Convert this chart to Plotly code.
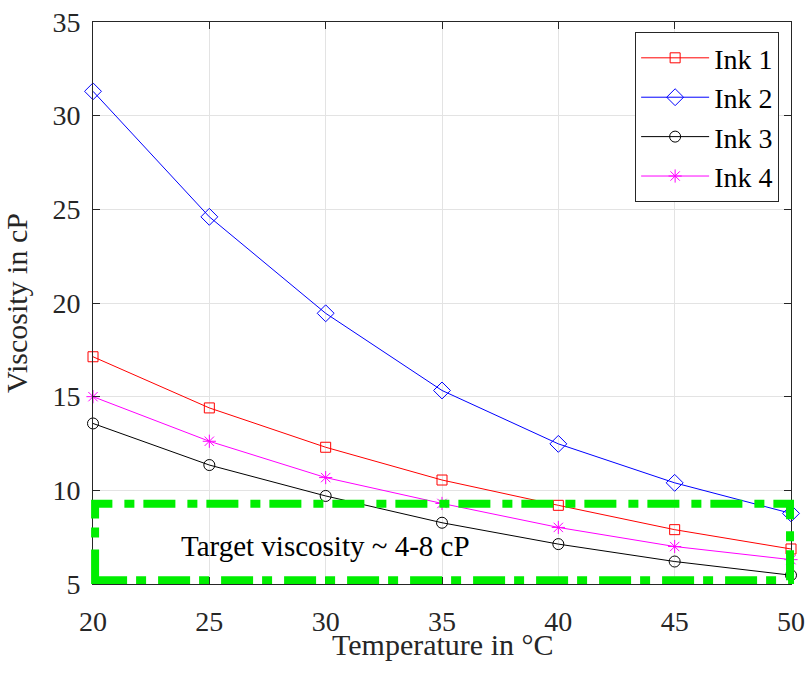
import plotly.graph_objects as go

temperature = [20, 25, 30, 35, 40, 45, 50]
ink1 = [17.13, 14.4, 12.3, 10.55, 9.2, 7.9, 6.87]
ink2 = [31.3, 24.6, 19.45, 15.33, 12.48, 10.4, 8.77]
ink3 = [13.57, 11.35, 9.7, 8.27, 7.13, 6.2, 5.47]
ink4 = [15.0, 12.62, 10.68, 9.3, 8.02, 7.0, 6.3]
series_names = ["Ink 1", "Ink 2", "Ink 3", "Ink 4"]
target_low, target_high = 5.2, 9.28
target_label = "Target viscosity ~ 4-8 cP"
x_title = "Temperature in °C"
y_title = "Viscosity in cP"

FONT = "Liberation Serif"
styles = [
    dict(color="#ff0000", symbol="square-open", size=10),
    dict(color="#0000ff", symbol="diamond-open", size=13),
    dict(color="#000000", symbol="circle-open", size=11),
    dict(color="#ff00ff", symbol="asterisk-open", size=11),
]

fig = go.Figure()
for name, vals, st in zip(series_names, [ink1, ink2, ink3, ink4], styles):
    fig.add_trace(go.Scatter(
        x=temperature, y=vals, name=name, mode="lines+markers",
        line=dict(color=st["color"], width=1),
        marker=dict(symbol=st["symbol"], size=st["size"], color=st["color"],
                    line=dict(color=st["color"], width=1)),
        cliponaxis=False,
    ))

fig.add_shape(type="rect", xref="paper", yref="y",
              x0=0.003, x1=0.9986, y0=target_low, y1=target_high,
              line=dict(color="#00ee00", width=8, dash="32px,9px,10px,12px"),
              layer="above")

fig.add_annotation(x=30, y=7.05, text=target_label, showarrow=False,
                   font=dict(family=FONT, size=29, color="#000000"))

fig.add_annotation(x=0.5, y=-0.108, xref="paper", yref="paper", text=x_title,
                   showarrow=False, xanchor="center", yanchor="middle",
                   font=dict(family=FONT, size=30, color="#262626"))

axis_common = dict(
    showline=True, linecolor="#262626", linewidth=1, mirror="ticks",
    ticks="inside", ticklen=7, tickwidth=1, tickcolor="#262626",
    showgrid=True, gridcolor="#e3e3e3", gridwidth=1, zeroline=False,
    tickfont=dict(family=FONT, size=28, color="#262626"),
    automargin=False,
)

fig.update_xaxes(range=[20, 50], tickvals=[20, 25, 30, 35, 40, 45, 50],
                 ticklabelstandoff=12, **axis_common)
fig.update_yaxes(range=[5, 35], tickvals=[5, 10, 15, 20, 25, 30, 35],
                 title=dict(text=y_title, font=dict(family=FONT, size=30, color="#262626")),
                 ticklabelstandoff=6, **axis_common)

fig.update_layout(
    width=808, height=673,
    margin=dict(l=93, r=17, t=22, b=89, autoexpand=False),
    plot_bgcolor="white", paper_bgcolor="white",
    font=dict(family=FONT, color="#000000"),
    legend=dict(x=0.983, y=0.982, xanchor="right", yanchor="top",
                bgcolor="white", bordercolor="#262626", borderwidth=1,
                font=dict(family=FONT, size=28, color="#000000"),
                itemwidth=68, tracegroupgap=0),
    showlegend=True,
)

fig.write_html("out.html")
